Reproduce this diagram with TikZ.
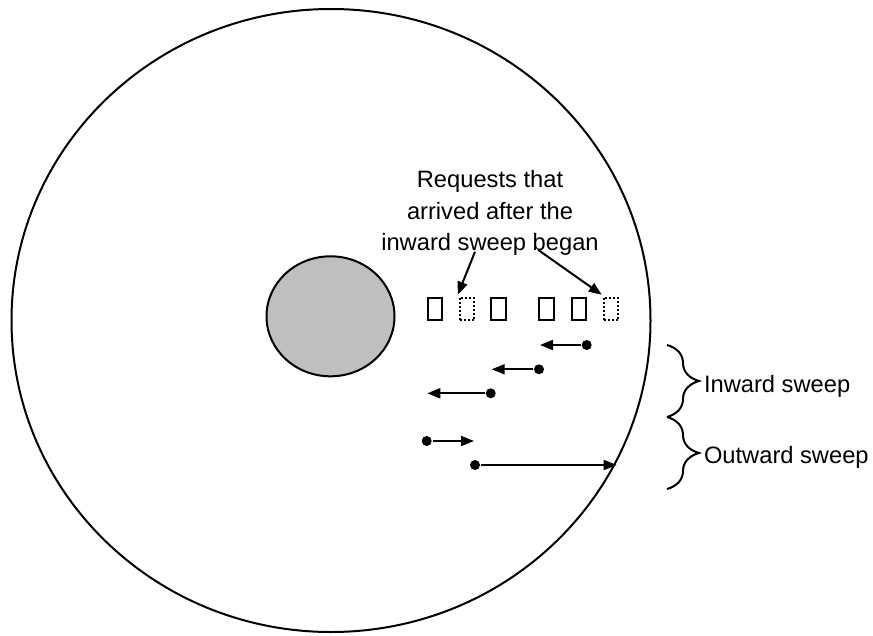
\documentclass[tikz,border=0pt]{standalone}
\usepackage{fontspec}
\setmainfont{Liberation Sans}
\usetikzlibrary{arrows.meta, decorations.pathreplacing}

\begin{document}
\begin{tikzpicture}[x=1pt, y=-1pt, >={Triangle[length=13pt, width=10pt]}, line width=2pt,
    font=\fontsize{23.7}{31.5}\selectfont,
    req/.style={draw, minimum width=14.5pt, minimum height=22.5pt, inner sep=0pt},
    nuevo/.style={req, dash pattern=on 2pt off 2pt},
    punto/.style={circle, fill, inner sep=0pt, minimum size=10pt},
    llave/.style={decorate, decoration={brace, amplitude=32pt}}]
  \useasboundingbox (0,0) rectangle (873,635);

  % El disco y el eje
  \draw (331,320.5) ellipse [x radius=319.5pt, y radius=311.5pt];
  \draw[fill=black!25] (330.5,316.3) ellipse [x radius=64pt, y radius=60pt];

  % Las peticiones
  \node[req] (r1) at (435,309) {};
  \node[nuevo] (n1) at (467,309) {};
  \node[req] (r2) at (498.5,309) {};
  \node[req] (r3) at (546.5,309) {};
  \node[req] (r4) at (579,309) {};
  \node[nuevo] (n2) at (611,309) {};

  % Texto y flechas hacia las nuevas
  \node[align=center, anchor=base] (texto) at (490,250.7) {Requests that\\arrived after the\\inward sweep began};
  \coordinate (a1) at (475,251.7);
  \coordinate (a2) at (538.3,250);
  \draw[->] (a1) -- ([shift={(-1,-2)}]n1.north west);
  \draw[->] (a2) -- ([shift={(-1,-2)}]n2.north west);

  % Los barridos
  \node[punto] (p1) at (586.7,345) {};
  \node[punto] (p2) at (539,369.3) {};
  \node[punto] (p3) at (490.7,393.3) {};
  \node[punto] (p4) at (426.7,441) {};
  \node[punto] (p5) at (475,465) {};
  \coordinate (f1) at (540,345);
  \coordinate (f2) at (491.7,369.3);
  \coordinate (f3) at (427.3,393.3);
  \coordinate (f4) at (474,441);
  \coordinate (f5) at (616.7,465);
  \draw[->] (p1) -- (f1);
  \draw[->] (p2) -- (f2);
  \draw[->] (p3) -- (f3);
  \draw[->] (p4) -- (f4);
  \draw[->] (p5) -- (f5);

  % Llaves y etiquetas
  \draw[llave] (667,345) -- (667,417);
  \draw[llave] (667,417) -- (667,489);
  \node[anchor=base west, inner sep=0pt] (dentro) at (703,392) {Inward sweep};
  \node[anchor=base west, inner sep=0pt] (fuera) at (703,463.5) {Outward sweep};
\end{tikzpicture}
\end{document}
